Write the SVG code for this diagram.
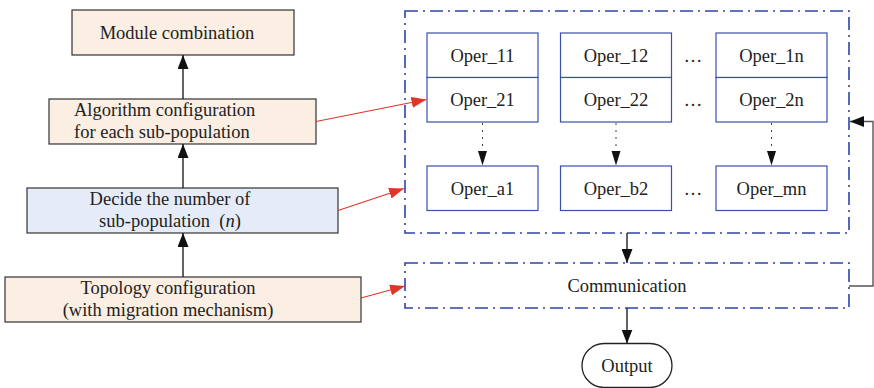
<svg xmlns="http://www.w3.org/2000/svg" width="874" height="388" viewBox="0 0 874 388" font-family="'Liberation Serif', 'Times New Roman', 'DejaVu Serif', serif" font-size="18.5">
  <defs>
    <marker id="ahBig" viewBox="0 0 14 11" refX="14" refY="5.5" markerWidth="14" markerHeight="11" markerUnits="userSpaceOnUse" orient="auto">
      <path d="M0,0 L14,5.5 L0,11 z" fill="#111"/>
    </marker>
    <marker id="ahRed" viewBox="0 0 15 11" refX="15" refY="5.5" markerWidth="15" markerHeight="11" markerUnits="userSpaceOnUse" orient="auto">
      <path d="M0,0 L15,5.5 L0,11 z" fill="#e0362a"/>
    </marker>
    <style>
      text { fill: #222; }
      .c { text-anchor: middle; }
      .peach { fill: #fbeee3; stroke: #333; stroke-width: 1.2; }
      .blue { fill: #e6ecf7; stroke: #333; stroke-width: 1.2; }
      .oper { fill: #fff; stroke: #3a4fa8; stroke-width: 1.2; }
      .dashbox { fill: none; stroke: #2f44a6; stroke-width: 1.6; stroke-dasharray: 13 5 2 5; }
      .blk { fill: none; stroke: #222; stroke-width: 1.4; }
      .dot { fill: none; stroke: #444; stroke-width: 1; stroke-dasharray: 2 5; }
      .red { fill: none; stroke: #e0362a; stroke-width: 1.2; }
    </style>
  </defs>

  <!-- left column of configuration steps -->
  <g id="module-combination">
    <rect class="peach" x="72" y="10" width="222" height="45"/>
    <text class="c" x="177" y="39">Module combination</text>
  </g>
  <g id="algorithm-configuration">
    <rect class="peach" x="49" y="99" width="267" height="45"/>
    <text x="74" y="116">Algorithm configuration</text>
    <text x="74" y="138">for each sub-population</text>
  </g>
  <g id="decide-number">
    <rect class="blue" x="27" y="188" width="311" height="45"/>
    <text class="c" x="170" y="205">Decide the number of</text>
    <text class="c" x="170" y="227">sub-population&#160; (<tspan font-style="italic">n</tspan>)</text>
  </g>
  <g id="topology-configuration">
    <rect class="peach" x="5" y="277" width="356" height="45"/>
    <text class="c" x="168" y="294">Topology configuration</text>
    <text class="c" x="168" y="316">(with migration mechanism)</text>
  </g>

  <!-- operator grid -->
  <g id="operator-frame">
    <rect class="dashbox" x="405" y="11" width="444" height="222"/>
  </g>
  <g id="oper-col-1">
    <rect class="oper" x="427" y="33" width="111" height="44.5"/>
    <rect class="oper" x="427" y="77.5" width="111" height="44.5"/>
    <rect class="oper" x="427" y="166" width="111" height="44.5"/>
    <text class="c" x="482.5" y="62">Oper_11</text>
    <text class="c" x="482.5" y="106">Oper_21</text>
    <text class="c" x="482.5" y="195">Oper_a1</text>
  </g>
  <g id="oper-col-2">
    <rect class="oper" x="560.5" y="33" width="111" height="44.5"/>
    <rect class="oper" x="560.5" y="77.5" width="111" height="44.5"/>
    <rect class="oper" x="560.5" y="166" width="111" height="44.5"/>
    <text class="c" x="616" y="62">Oper_12</text>
    <text class="c" x="616" y="106">Oper_22</text>
    <text class="c" x="616" y="195">Oper_b2</text>
  </g>
  <g id="oper-col-n">
    <rect class="oper" x="716" y="33" width="111" height="44.5"/>
    <rect class="oper" x="716" y="77.5" width="111" height="44.5"/>
    <rect class="oper" x="716" y="166" width="111" height="44.5"/>
    <text class="c" x="771.5" y="62">Oper_1n</text>
    <text class="c" x="771.5" y="106">Oper_2n</text>
    <text class="c" x="771.5" y="195">Oper_mn</text>
  </g>
  <g id="ellipses">
    <text class="c" x="693" y="62">…</text>
    <text class="c" x="693" y="106">…</text>
    <text class="c" x="693" y="195">…</text>
  </g>

  <g id="communication">
    <rect class="dashbox" x="405" y="263" width="444" height="45"/>
    <text class="c" x="627" y="292">Communication</text>
  </g>
  <g id="output">
    <rect x="582" y="343.5" width="90" height="44" rx="22" ry="22" fill="#fff" stroke="#222" stroke-width="1.3"/>
    <text class="c" x="627" y="372">Output</text>
  </g>

  <!-- connectors -->
  <g id="connectors">
    <line class="blk" x1="183" y1="99" x2="183" y2="55" marker-end="url(#ahBig)"/>
    <line class="blk" x1="183" y1="188" x2="183" y2="144" marker-end="url(#ahBig)"/>
    <line class="blk" x1="183" y1="277" x2="183" y2="233" marker-end="url(#ahBig)"/>

    <line class="dot" x1="482.5" y1="123" x2="482.5" y2="152"/>
    <line class="dot" x1="616" y1="123" x2="616" y2="152"/>
    <line class="dot" x1="771.5" y1="123" x2="771.5" y2="152"/>
    <path d="M478,151 L487,151 L482.5,165.5 z" fill="#111"/>
    <path d="M611.5,151 L620.5,151 L616,165.5 z" fill="#111"/>
    <path d="M767,151 L776,151 L771.5,165.5 z" fill="#111"/>

    <line class="blk" x1="627" y1="233" x2="627" y2="263" marker-end="url(#ahBig)"/>
    <line class="blk" x1="627" y1="308" x2="627" y2="343.5" marker-end="url(#ahBig)"/>

    <path d="M849,286 L873,286 L873,121.5 L850,121.5" fill="none" stroke="#555" stroke-width="1.4" marker-end="url(#ahBig)"/>

    <line class="red" x1="316" y1="121.5" x2="426.5" y2="99.5" marker-end="url(#ahRed)"/>
    <line class="red" x1="338" y1="210.5" x2="404" y2="188.5" marker-end="url(#ahRed)"/>
    <line class="red" x1="361" y1="298" x2="405" y2="286" marker-end="url(#ahRed)"/>
  </g>
</svg>
